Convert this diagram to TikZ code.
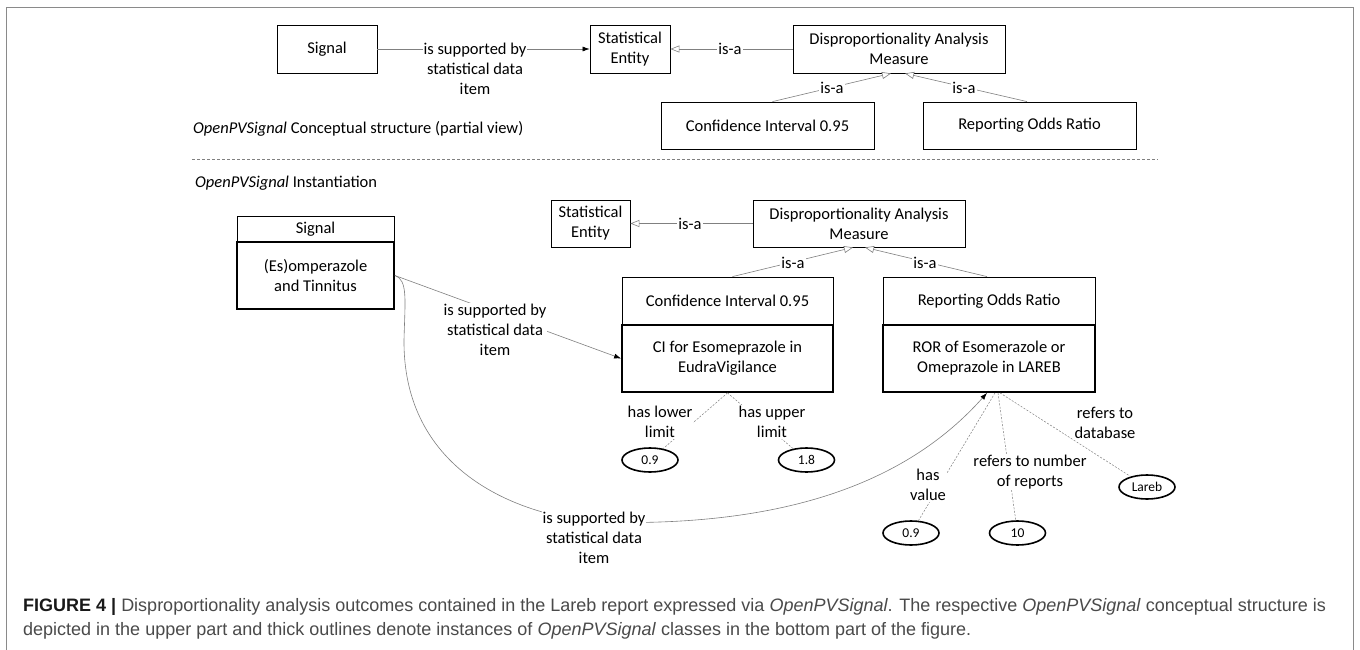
\documentclass[tikz,border=0pt]{standalone}
\usepackage{fontspec}
\setmainfont{Carlito}
\newfontfamily\capfont{Liberation Sans}
\usetikzlibrary{arrows.meta,calc,shapes.geometric}
\definecolor{lnc}{HTML}{808080}
\definecolor{capc}{HTML}{4A4A4A}
\definecolor{frc}{HTML}{8A8A8A}
\newcommand\diafont{\fontsize{16.5}{20}\selectfont}
\newcommand\valfont{\fontsize{13.5}{15}\selectfont}
\begin{document}
\begin{tikzpicture}[x=1pt,y=-1pt,
 clsbox/.style={draw=black,line width=0.8pt,align=center,inner sep=0pt,font=\diafont},
 instbox/.style={clsbox,line width=1.8pt},
 valell/.style={ellipse,draw=black,line width=1.6pt,inner sep=0pt,minimum width=56pt,minimum height=24pt,font=\valfont},
 lbl/.style={fill=white,align=center,inner sep=1pt,font=\diafont},
 relline/.style={draw=lnc,line width=0.6pt},
 isaarrow/.style={relline,-{Triangle[fill=white,length=9pt,width=7pt]}},
 suparrow/.style={relline,-{Latex[length=7pt,width=5pt,black]}},
 dashline/.style={draw=lnc,line width=0.5pt,dash pattern=on 2pt off 1.5pt},
 sepline/.style={draw=lnc,line width=0.6pt,dash pattern=on 3pt off 2pt},
 plaintxt/.style={anchor=west,inner sep=0pt,font=\diafont}]
\useasboundingbox[fill=white] (0,0) rectangle (1360,650);

% frame
\draw[frc,line width=1.5pt] (6.5,652) -- (6.5,7.5) -- (1353.5,7.5) -- (1353.5,652);

% ---------- conceptual structure ----------
\node[clsbox,minimum width=100pt,minimum height=48pt] (tsig) at (327,49) {Signal};
\node[clsbox,minimum width=80pt,minimum height=48pt] (tse) at (630,49) {Statistical\\Entity};
\node[clsbox,minimum width=212pt,minimum height=48pt] (tdam) at (899,49) {Disproportionality Analysis\\Measure};
\node[clsbox,minimum width=213pt,minimum height=47pt] (tci) at (767.5,125.5) {Confidence Interval 0.95};
\node[clsbox,minimum width=213pt,minimum height=47pt] (tror) at (1029.5,125.5) {Reporting Odds Ratio};

\draw[suparrow] (tsig) -- (tse);
\draw[isaarrow] (tdam) -- (tse);
\draw[isaarrow] ($(tci.north)+(5,0)$) -- ($(tdam.south)+(-8,0)$);
\draw[isaarrow] ($(tror.north)+(-2.5,0)$) -- ($(tdam.south)+(6,0)$);

\node[lbl] (tl1) at (475,69) {is supported by\\statistical data\\item};
\node[lbl] (tl2) at (730,49) {is-a};
\node[lbl] (tl3) at (832,88) {is-a};
\node[lbl] (tl4) at (964,88) {is-a};

\node[plaintxt] (cstxt) at (193,129) {\textit{OpenPVSignal} Conceptual structure (partial view)};
\coordinate (sepA) at (192,159);
\coordinate (sepB) at (1158,159);
\draw[sepline] (sepA) -- (sepB);
\node[plaintxt] (insttxt) at (195,183) {\textit{OpenPVSignal} Instantiation};

% ---------- instantiation ----------
\node[clsbox,minimum width=79pt,minimum height=47pt] (bse) at (590.5,223.5) {Statistical\\Entity};
\node[clsbox,minimum width=212pt,minimum height=47pt] (bdam) at (859,223.5) {Disproportionality Analysis\\Measure};

\node[clsbox,minimum width=157pt,minimum height=26pt] (bsigh) at (315.5,229) {Signal};
\node[instbox,minimum width=157pt,minimum height=67pt] (bsigb) at (315.5,275.5) {(Es)omperazole\\and Tinnitus};

\node[clsbox,minimum width=211pt,minimum height=48pt] (bcih) at (727.5,301) {Confidence Interval 0.95};
\node[instbox,minimum width=211pt,minimum height=67pt] (bcib) at (727.5,358.5) {CI for Esomeprazole in\\EudraVigilance};
\node[clsbox,minimum width=212pt,minimum height=48pt] (brorh) at (989,301) {Reporting Odds Ratio};
\node[instbox,minimum width=212pt,minimum height=67pt] (brorb) at (989,358.5) {ROR of Esomerazole or\\Omeprazole in LAREB};

\node[valell] (e1) at (650,460) {0.9};
\node[valell] (e2) at (806.5,460) {1.8};
\node[valell] (e3) at (911,533) {0.9};
\node[valell] (e4) at (1017.5,533) {10};
\node[valell] (e5) at (1147,487) {Lareb};

\draw[isaarrow] (bdam) -- (bse);
\draw[isaarrow] ($(bcih.north)+(5,0)$) -- ($(bdam.south)+(-6,0)$);
\draw[isaarrow] ($(brorh.north)+(-2,0)$) -- ($(bdam.south)+(6,0)$);

\draw[suparrow] (bsigb.east) -- (bcib.west);
\coordinate (cv1) at (404,340);
\coordinate (cv2) at (594,522);
\draw[suparrow] (bsigb.east) .. controls (408,280) and (405,300) .. (cv1)
  .. controls (403,460) and (500,512) .. (cv2)
  .. controls (780,528) and (905,485) .. ($(brorb.south)+(-2,0)$);

\draw[dashline] (bcib.south) -- (e1);
\draw[dashline] (bcib.south) -- (e2);
\draw[dashline] ($(brorb.south)+(6,0)$) -- (e3);
\draw[dashline] ($(brorb.south)+(9,0)$) -- (e4);
\draw[dashline] ($(brorb.south)+(11,0)$) -- (e5);

\node[lbl] (bl1) at (690,223.5) {is-a};
\node[lbl] (bl2) at (793,263) {is-a};
\node[lbl] (bl3) at (925,263) {is-a};
\node[lbl] (bl4) at (495,330) {is supported by\\statistical data\\item};
\node[lbl] (bl5) at (594,538) {is supported by\\statistical data\\item};
\node[lbl] (bl6) at (660,422) {has lower\\limit};
\node[lbl] (bl7) at (772,422) {has upper\\limit};
\node[lbl] (bl8) at (928,485) {has\\value};
\node[lbl] (bl9) at (1030,472) {refers to number\\of reports};
\node[lbl] (bl10) at (1105,423) {refers to\\database};

% ---------- caption ----------
\node[anchor=base west,inner sep=0pt,text=capc,font=\capfont\fontsize{18}{24}\selectfont] (cap1) at (23,611)
 {{\bfseries\color{black!90}FIGURE 4 |} Disproportionality analysis outcomes contained in the Lareb report expressed via \textit{OpenPVSignal}. The respective \textit{OpenPVSignal} conceptual structure is};
\node[anchor=base west,inner sep=0pt,text=capc,font=\capfont\fontsize{18}{24}\selectfont] (cap2) at (23,635)
 {depicted in the upper part and thick outlines denote instances of \textit{OpenPVSignal} classes in the bottom part of the figure.};
\end{tikzpicture}
\end{document}
